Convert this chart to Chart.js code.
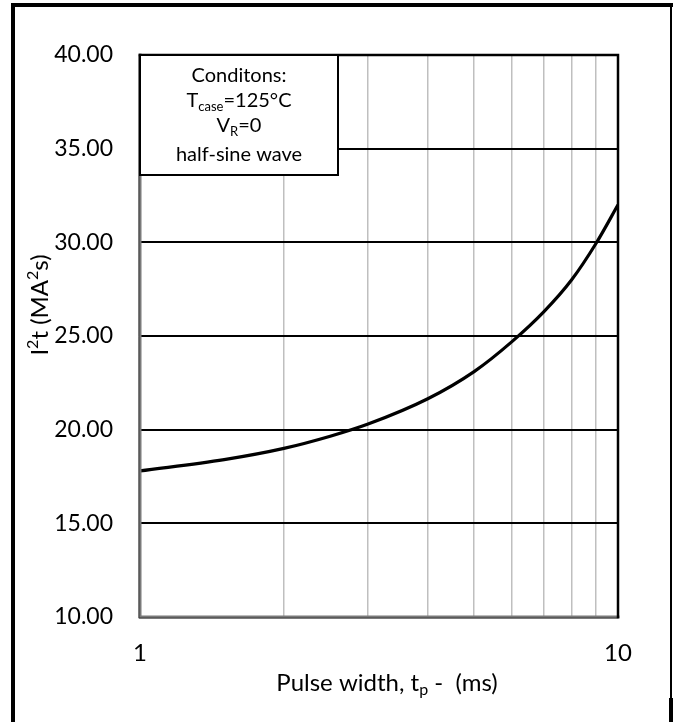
<!DOCTYPE html>
<html><head><meta charset="utf-8">
<script src="https://cdn.jsdelivr.net/npm/chart.js@4/dist/chart.umd.min.js"></script>
<style>html,body{margin:0;padding:0;background:#fff;}#wrap{width:678px;height:722px;}</style>
</head><body><div id="wrap"><canvas id="c" width="678" height="722"></canvas></div>
<script>
// ---- data ----
const pulseWidth = [1, 1.5, 2, 2.5, 3, 4, 5, 6, 7, 8, 9, 10];
const i2t = [17.8, 18.4, 19.0, 19.65, 20.3, 21.65, 23.1, 24.7, 26.3, 28.0, 29.95, 32.0];
const xGridValues = [1, 2, 3, 4, 5, 6, 7, 8, 9, 10];
const xTickLabels = [1, 10];
const yMin = 10, yMax = 40, yStep = 5;
const conditionLines = [
  [["Conditons:", ""]],
  [["T", ""], ["case", "sub"], ["=125°C", ""]],
  [["V", ""], ["R", "sub"], ["=0", ""]],
  [["half-sine wave", ""]]
];
const xTitle = [["Pulse width, t", ""], ["p", "sub"], [" -  (ms)", ""]];
const yTitle = [["I", ""], ["2", "sup"], ["t (MA", ""], ["2", "sup"], ["s)", ""]];

const FONT = "Lato, 'Open Sans', sans-serif";

function drawRich(ctx, segs, cx, cy, size, smallSize) {
  let total = 0;
  const widths = segs.map(([t, k]) => {
    ctx.font = (k ? smallSize : size) + "px " + FONT;
    const w = ctx.measureText(t).width; total += w; return w;
  });
  let x = cx - total / 2;
  ctx.textBaseline = "middle";
  ctx.textAlign = "left";
  segs.forEach(([t, k], i) => {
    ctx.font = (k ? smallSize : size) + "px " + FONT;
    const dy = k === "sub" ? size * 0.3 : (k === "sup" ? -size * 0.3 : 0);
    ctx.fillText(t, x, cy + dy);
    x += widths[i];
  });
}

const decor = {
  id: "decor",
  beforeDraw(chart) {
    const ctx = chart.ctx;
    ctx.save(); ctx.fillStyle = "#fff"; ctx.fillRect(0, 0, chart.width, chart.height); ctx.restore();
  },
  afterDraw(chart) {
    const ctx = chart.ctx;
    const a = chart.chartArea;
    ctx.save();
    // plot frame: left & bottom grey, top & right black
    ctx.lineCap = "square";
    ctx.strokeStyle = "#7a7a7a"; ctx.lineWidth = 3;
    ctx.beginPath(); ctx.moveTo(a.left, a.top); ctx.lineTo(a.left, a.bottom); ctx.lineTo(a.right, a.bottom); ctx.stroke();
    ctx.strokeStyle = "#3a3a3a"; ctx.lineWidth = 1;
    ctx.beginPath(); ctx.moveTo(a.left - 1, a.top); ctx.lineTo(a.left - 1, a.bottom + 1); ctx.lineTo(a.right, a.bottom + 1); ctx.stroke();
    ctx.strokeStyle = "#000"; ctx.lineWidth = 2.5;
    ctx.beginPath(); ctx.moveTo(a.left, a.top); ctx.lineTo(a.right, a.top); ctx.lineTo(a.right, a.bottom); ctx.stroke();

    // conditions box
    const bx = a.left, by = a.top, bw = 198, bh = 120;
    ctx.fillStyle = "#fff"; ctx.fillRect(bx, by, bw, bh);
    ctx.strokeStyle = "#000"; ctx.lineWidth = 2;
    ctx.strokeRect(bx, by, bw, bh);
    ctx.fillStyle = "#000";
    const lineY = [21, 46, 71, 100];
    conditionLines.forEach((segs, i) => drawRich(ctx, segs, bx + bw / 2, by + lineY[i], 20, 13));

    // axis titles
    ctx.fillStyle = "#000";
    drawRich(ctx, xTitle, 387, 683, 24, 16);
    ctx.save();
    ctx.translate(40, 305); ctx.rotate(-Math.PI / 2);
    drawRich(ctx, yTitle, 0, 0, 24, 16);
    ctx.restore();

    // outer border
    ctx.fillStyle = "#000";
    ctx.fillRect(11, 3, 4, 719);
    ctx.fillRect(11, 3, 662, 4);
    ctx.fillRect(670, 3, 2, 700);
    ctx.fillRect(669, 698, 4, 24);
    ctx.fillRect(669, 3, 4, 4);
    ctx.restore();
  }
};

new Chart(document.getElementById("c"), {
  type: "line",
  data: {
    datasets: [{
      data: pulseWidth.map((x, i) => ({ x: x, y: i2t[i] })),
      borderColor: "#000",
      borderWidth: 3.2,
      pointRadius: 0,
      cubicInterpolationMode: "monotone",
      fill: false
    }]
  },
  options: {
    responsive: false,
    devicePixelRatio: 1,
    animation: false,
    layout: { padding: { left: 0, top: 55, right: 60, bottom: 0 } },
    plugins: { legend: { display: false }, tooltip: { enabled: false } },
    scales: {
      x: {
        type: "logarithmic",
        min: 1, max: 10,
        border: { display: false },
        grid: { color: "#bfbfbf", lineWidth: 1.5, drawTicks: false },
        afterBuildTicks: s => { s.ticks = xGridValues.map(v => ({ value: v })); },
        ticks: {
          autoSkip: false, maxRotation: 0, padding: 22,
          color: "#000", font: { family: FONT, size: 24 },
          callback: v => xTickLabels.includes(v) ? String(v) : ""
        },
        afterFit: s => { s.height = 105; }
      },
      y: {
        min: yMin, max: yMax,
        border: { display: false },
        grid: { color: "#000", lineWidth: 2, drawTicks: false },
        ticks: {
          stepSize: yStep, padding: 27,
          color: "#000", font: { family: FONT, size: 23 },
          callback: v => Number(v).toFixed(2)
        },
        afterFit: s => { s.width = 140; }
      }
    }
  },
  plugins: [decor]
});
</script></body></html>
